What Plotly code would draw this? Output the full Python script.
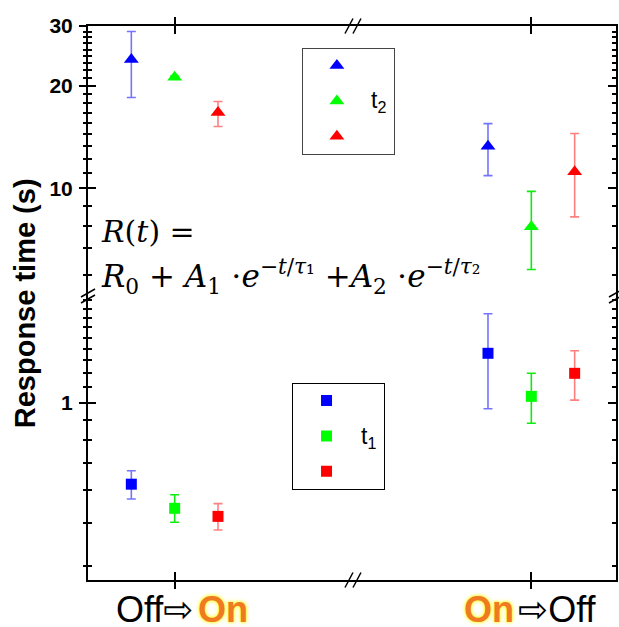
import math
import plotly.graph_objects as go

# ---------------- data ----------------
categories = ["Off⇨On", "On⇨Off"]

# t2 (upper panel, triangles)
t2_blue = [23.9, 13.3]
t2_blue_upper = [28.9, 15.5]
t2_blue_lower = [18.5, 10.9]
t2_green = [21.2, 7.72]
t2_green_upper = [21.4, 9.8]
t2_green_lower = [21.0, 5.78]
t2_red = [16.7, 11.2]
t2_red_upper = [18.0, 14.5]
t2_red_lower = [15.2, 8.25]

# t1 (lower panel, squares)
t1_blue = [0.578, 1.399]
t1_blue_upper = [0.633, 1.827]
t1_blue_lower = [0.523, 0.962]
t1_green = [0.491, 1.046]
t1_green_upper = [0.538, 1.222]
t1_green_lower = [0.447, 0.872]
t1_red = [0.465, 1.222]
t1_red_upper = [0.507, 1.423]
t1_red_lower = [0.424, 1.020]

upper_major_ticks = [10, 20, 30]
lower_major_ticks = [1]
upper_range = [4.83, 30]
lower_range = [0.3026, 2.06]

# ---------------- styling ----------------
COLORS = {"blue": "#0000ff", "green": "#00ff00", "red": "#ff0000"}
ERR_COLORS = {"blue": "rgba(0,0,255,0.55)", "green": "rgba(0,235,0,0.95)", "red": "rgba(255,0,0,0.5)"}
FONT = "Liberation Sans, Arial, sans-serif"
PAD_NAME = "\u00a0" * 4   # blank legend entry text (the label is written beside the box)


def minor_ticks(majors, lo, hi):
    step = majors[1] - majors[0] if len(majors) > 1 else majors[0]
    base = majors[0]
    out = []
    # each major interval split in 9 linear parts (8 minor ticks)
    for i in range(-20, 40):
        v = base + i * step / 9.0
        if v <= 0:
            continue
        if lo < v < hi and all(abs(v - m) > 1e-9 for m in majors):
            out.append(v)
    return out


def err(vals, up, lo, color):
    return dict(type="data", symmetric=False,
                array=[u - v for u, v in zip(up, vals)],
                arrayminus=[v - l for v, l in zip(vals, lo)],
                thickness=1.6, width=4.5, color=color)


fig = go.Figure()

t2_sets = [("blue", t2_blue, t2_blue_upper, t2_blue_lower),
           ("green", t2_green, t2_green_upper, t2_green_lower),
           ("red", t2_red, t2_red_upper, t2_red_lower)]
t1_sets = [("blue", t1_blue, t1_blue_upper, t1_blue_lower),
           ("green", t1_green, t1_green_upper, t1_green_lower),
           ("red", t1_red, t1_red_upper, t1_red_lower)]

for name, vals, up, lo in t2_sets:
    fig.add_trace(go.Scatter(
        x=categories, y=vals, mode="markers", name=PAD_NAME,
        xaxis="x2", yaxis="y2", offsetgroup=name, legendgroup="t2" + name,
        marker=dict(symbol="triangle-up", size=13, color=COLORS[name]),
        error_y=err(vals, up, lo, ERR_COLORS[name]), legend="legend", showlegend=True))

for name, vals, up, lo in t1_sets:
    fig.add_trace(go.Scatter(
        x=categories, y=vals, mode="markers", name=PAD_NAME,
        xaxis="x", yaxis="y", offsetgroup=name, legendgroup="t1" + name,
        marker=dict(symbol="square", size=11, color=COLORS[name]),
        error_y=err(vals, up, lo, ERR_COLORS[name]), legend="legend2", showlegend=True))

# empty traces so that the overlay axes (outer half of the crossing ticks) get drawn
for xa, ya in (("x3", "y3"), ("x4", "y4")):
    fig.add_trace(go.Scatter(x=[], y=[], xaxis=xa, yaxis=ya, mode="markers",
                             showlegend=False, hoverinfo="skip"))

split = (580 - 296) / 554.0
xr = [-0.243, 1.2374]

axis_common = dict(showgrid=False, zeroline=False, color="black")
tick_font = dict(family=FONT, size=21, color="black", weight="bold")

fig.update_layout(
    width=619, height=627,
    margin=dict(l=88, r=1, t=26, b=47),
    paper_bgcolor="white", plot_bgcolor="white",
    scattermode="group", scattergap=0.6355,
    xaxis=dict(type="category", categoryorder="array", categoryarray=categories,
               range=xr, domain=[0, 1], anchor="y", showline=True, linecolor="black",
               linewidth=1.5, ticks="inside", ticklen=8, tickwidth=1.5, tickcolor="black",
               showticklabels=False, **axis_common),
    xaxis2=dict(type="category", categoryorder="array", categoryarray=categories,
                range=xr, domain=[0, 1], anchor="y2", side="top", showline=True,
                linecolor="black", linewidth=1.5, ticks="inside", ticklen=8, tickwidth=1.5,
                tickcolor="black", showticklabels=False, **axis_common),
    xaxis3=dict(type="linear", overlaying="x", anchor="y", side="bottom", range=xr,
                tickvals=[0, 1], ticks="outside", ticklen=8, tickwidth=1.5,
                tickcolor="black", showline=False, showticklabels=False, **axis_common),
    xaxis4=dict(type="linear", overlaying="x2", anchor="y2", side="top", range=xr,
                tickvals=[0, 1], ticks="outside", ticklen=8, tickwidth=1.5,
                tickcolor="black", showline=False, showticklabels=False, **axis_common),
    yaxis=dict(type="log", domain=[0, split], anchor="x",
               range=[math.log10(lower_range[0]), math.log10(lower_range[1])],
               showline=True, linecolor="black", linewidth=1.5, mirror="ticks",
               ticks="inside", ticklen=8, tickwidth=1.5, tickcolor="black",
               tickvals=lower_major_ticks, showticklabels=False,
               minor=dict(ticks="inside", ticklen=4, tickwidth=1.5, tickcolor="black",
                          tickvals=minor_ticks(lower_major_ticks, *lower_range)),
               **axis_common),
    yaxis2=dict(type="log", domain=[split, 1], anchor="x2",
                range=[math.log10(upper_range[0]), math.log10(upper_range[1])],
                showline=True, linecolor="black", linewidth=1.5, mirror="ticks",
                ticks="inside", ticklen=8, tickwidth=1.5, tickcolor="black",
                tickvals=upper_major_ticks, showticklabels=False,
                minor=dict(ticks="inside", ticklen=4, tickwidth=1.5, tickcolor="black",
                           tickvals=minor_ticks(upper_major_ticks, *upper_range)),
                **axis_common),
    yaxis3=dict(type="log", overlaying="y", anchor="x3", side="left",
                range=[math.log10(lower_range[0]), math.log10(lower_range[1])],
                showline=False, ticks="outside", ticklen=8, tickwidth=1.5,
                tickcolor="black", tickvals=lower_major_ticks, tickfont=tick_font,
                ticklabelstandoff=2,
                minor=dict(ticks="outside", ticklen=4, tickwidth=1.5, tickcolor="black",
                           tickvals=minor_ticks(lower_major_ticks, *lower_range)),
                **axis_common),
    yaxis4=dict(type="log", overlaying="y2", anchor="x4", side="left",
                range=[math.log10(upper_range[0]), math.log10(upper_range[1])],
                showline=False, ticks="outside", ticklen=8, tickwidth=1.5,
                tickcolor="black", tickvals=upper_major_ticks, tickfont=tick_font,
                ticklabelstandoff=2,
                minor=dict(ticks="outside", ticklen=4, tickwidth=1.5, tickcolor="black",
                           tickvals=minor_ticks(upper_major_ticks, *upper_range)),
                **axis_common),
    legend=dict(x=(302.7 - 88) / 530, y=(580 - 47.7) / 554, xanchor="left", yanchor="top",
                bordercolor="#444444", borderwidth=1, bgcolor="rgba(255,255,255,0)",
                font=dict(size=16, family=FONT), itemwidth=58,
                tracegroupgap=11.5, traceorder="grouped"),
    legend2=dict(x=(292.3 - 88) / 530, y=(580 - 382.7) / 554, xanchor="left", yanchor="top",
                 bordercolor="black", borderwidth=1, bgcolor="rgba(255,255,255,0)",
                 font=dict(size=16, family=FONT), itemwidth=58,
                 tracegroupgap=11.5, traceorder="grouped"),
)

annotations = [
    dict(text="<b>Response time (s)</b>", textangle=-90, xref="paper", yref="paper",
         x=(25 - 88) / 530, y=(580 - 303) / 554, xanchor="center", yanchor="middle",
         showarrow=False, font=dict(family=FONT, size=29, color="black")),
    dict(text="t<sub>2</sub>", xref="paper", yref="paper", x=(370 - 88) / 530,
         y=(580 - 102) / 554, xanchor="left", yanchor="middle", showarrow=False,
         font=dict(family=FONT, size=23, color="black")),
    dict(text="t<sub>1</sub>", xref="paper", yref="paper", x=(360 - 88) / 530,
         y=(580 - 437) / 554, xanchor="left", yanchor="middle", showarrow=False,
         font=dict(family=FONT, size=23, color="black")),
    dict(text="<i>R</i>(<i>t</i>) =", xref="paper", yref="paper", x=(99 - 88) / 530,
         y=(580 - 231) / 554, xanchor="left", yanchor="middle", showarrow=False,
         font=dict(family="DejaVu Serif, serif", size=30, color="black")),
    dict(text="<i>R</i><sub>0</sub> + <i>A</i><sub>1</sub> ⋅<i>e</i><sup>−<i>t</i>/<i>τ</i>₁</sup>"
              " +<i>A</i><sub>2</sub> ⋅<i>e</i><sup>−<i>t</i>/<i>τ</i>₂</sup>",
         xref="paper", yref="paper", x=(99 - 88) / 530,
         y=(580 - 276) / 554, xanchor="left", yanchor="middle", showarrow=False,
         font=dict(family="DejaVu Serif, serif", size=31, color="black")),
]

label_font = dict(family=FONT + ", DejaVu Sans", size=36, color="black")
on_font = dict(family=FONT, size=36, color="#ef7a22", weight="bold",
               shadow="0px 0px 3px #ffff40, 0px 0px 5px #ffff60, 0px 0px 2px #fff200")
ylab = (580 - 609) / 554
annotations += [
    dict(text="Off⇨", xref="x", yref="paper", x=categories[0], y=ylab, xanchor="right",
         yanchor="middle", xshift=21, showarrow=False, font=label_font),
    dict(text="On", xref="x", yref="paper", x=categories[0], y=ylab, xanchor="left",
         yanchor="middle", xshift=21, showarrow=False, font=on_font),
    dict(text="On", xref="x", yref="paper", x=categories[1], y=ylab, xanchor="right",
         yanchor="middle", xshift=-15, showarrow=False, font=on_font),
    dict(text="⇨Off", xref="x", yref="paper", x=categories[1], y=ylab, xanchor="left",
         yanchor="middle", xshift=-15, showarrow=False, font=label_font),
]
fig.update_layout(annotations=annotations)

# axis-break marks ("//")
shapes = []
brk_x = (354 - 88) / 530
for xa in (0, 1):
    for dy in (3, -3):
        shapes.append(dict(type="line", xref="paper", yref="paper",
                           xsizemode="pixel", xanchor=xa, x0=-7, x1=7,
                           ysizemode="pixel", yanchor=split, y0=dy - 4, y1=dy + 4,
                           line=dict(color="black", width=1.5)))
for ya in (0, 1):
    for dx in (-4, 4):
        shapes.append(dict(type="line", xref="paper", yref="paper",
                           xsizemode="pixel", xanchor=brk_x, x0=dx - 4, x1=dx + 4,
                           ysizemode="pixel", yanchor=ya, y0=-7.5, y1=7.5,
                           line=dict(color="black", width=1.5)))
fig.update_layout(shapes=shapes)

fig.write_html("out.html")
